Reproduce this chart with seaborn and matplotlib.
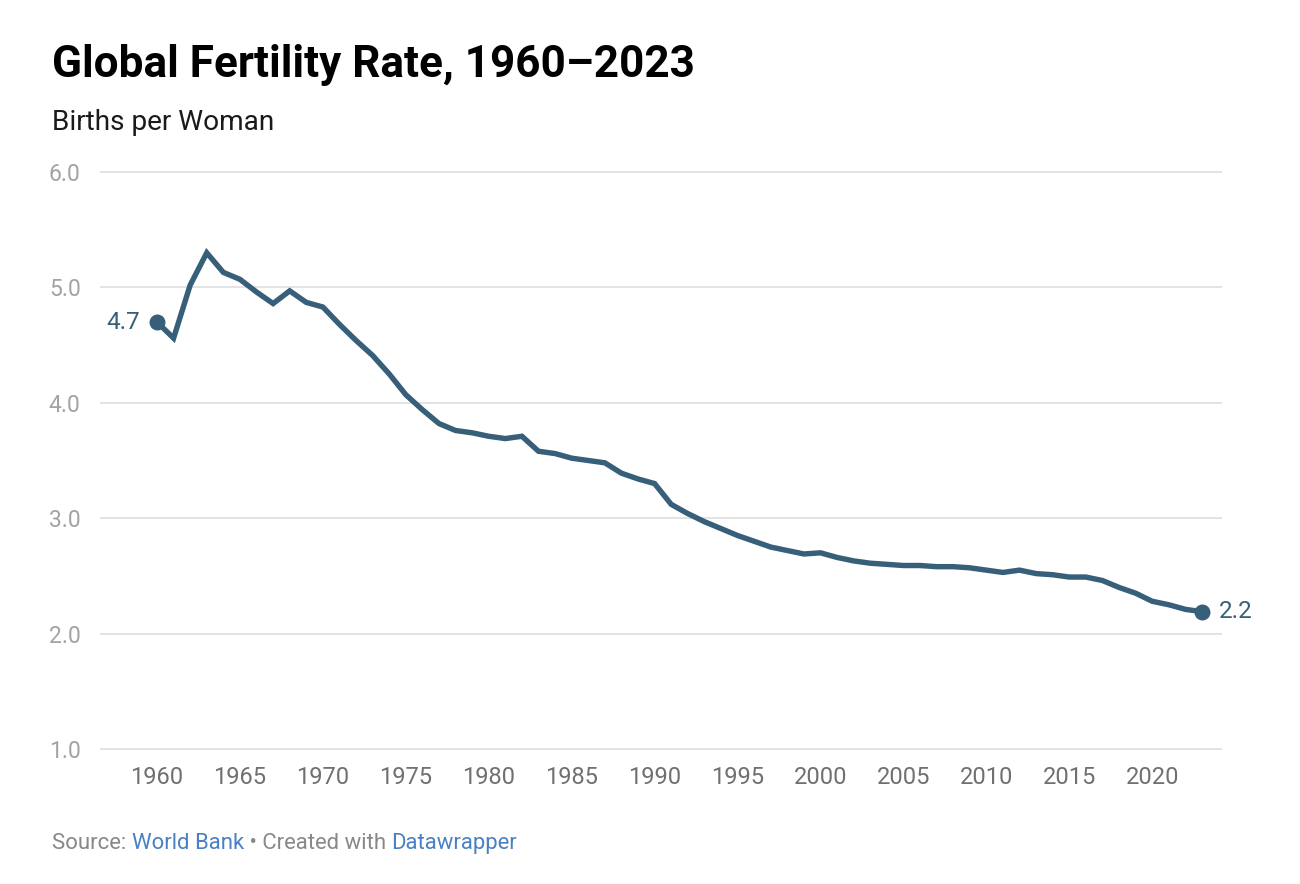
import matplotlib
matplotlib.use("Agg")
import matplotlib.pyplot as plt
import seaborn as sns
import pandas as pd

# Datos: tasa global de fecundidad (World Bank)
years = list(range(1960, 2024))
fertility = [
    4.70, 4.56, 5.02, 5.30, 5.13, 5.07, 4.96, 4.86, 4.97, 4.87,
    4.83, 4.68, 4.54, 4.41, 4.25, 4.07, 3.94, 3.82, 3.76, 3.74,
    3.71, 3.69, 3.71, 3.58, 3.56, 3.52, 3.50, 3.48, 3.39, 3.34,
    3.30, 3.12, 3.04, 2.97, 2.91, 2.85, 2.80, 2.75, 2.72, 2.69,
    2.70, 2.66, 2.63, 2.61, 2.60, 2.59, 2.59, 2.58, 2.58, 2.57,
    2.55, 2.53, 2.55, 2.52, 2.51, 2.49, 2.49, 2.46, 2.40, 2.35,
    2.28, 2.25, 2.21, 2.19,
]
x_ticks = list(range(1960, 2021, 5))
y_ticks = [1.0, 2.0, 3.0, 4.0, 5.0, 6.0]

df = pd.DataFrame({"year": years, "rate": fertility})

sns.set_theme(style="white")
plt.rcParams["font.family"] = ["Roboto", "DejaVu Sans"]

line_color = "#375f79"

fig = plt.figure(figsize=(13, 8.84), dpi=100)
W, H = 1300, 884
# ejes: 1.0 en y=749px, 6.0 en y=172px ; 1960 en x=157px, 2023 en x=1202px
ylo, yhi = 0.95, 6.05
ppu = (749 - 172) / 5.0
top_px = 172 - (yhi - 6.0) * ppu
bot_px = 749 + (1.0 - ylo) * ppu
left_px, right_px = 100, 1222
ax = fig.add_axes([left_px / W, 1 - bot_px / H, (right_px - left_px) / W, (bot_px - top_px) / H])

ppy = (1202 - 157) / 63.0
xlo = 1960 - (157 - left_px) / ppy
xhi = 2023 + (right_px - 1202) / ppy

for yv in y_ticks:
    ax.axhline(yv, color="#e3e3e3", lw=1.4, zorder=0)

sns.lineplot(data=df, x="year", y="rate", ax=ax, color=line_color, lw=3.9,
             solid_joinstyle="miter", zorder=3)
ends = df.iloc[[0, -1]]
ax.scatter(ends["year"], ends["rate"], s=110, color=line_color, zorder=4)
ax.text(ends["year"].iloc[0] - 1.0, ends["rate"].iloc[0], f"{fertility[0]:.1f}",
        ha="right", va="center", fontsize=17.5, color=line_color)
ax.text(ends["year"].iloc[1] + 1.0, ends["rate"].iloc[1], f"{fertility[-1]:.1f}",
        ha="left", va="center", fontsize=17.5, color=line_color)

ax.set_xlim(xlo, xhi)
ax.set_ylim(ylo, yhi)
ax.set_xticks(x_ticks)
ax.set_xticklabels([str(t) for t in x_ticks], fontsize=17, color="#707070")
ax.set_yticks(y_ticks)
ax.set_yticklabels([f"{t:.1f}" for t in y_ticks], fontsize=16.5, color="#a3a3a3")
ax.tick_params(axis="x", length=0, pad=8)
ax.tick_params(axis="y", length=0, pad=14)
ax.set_xlabel("")
ax.set_ylabel("")
for s in ax.spines.values():
    s.set_visible(False)

fig.text(52 / W, 1 - 77 / H, "Global Fertility Rate, 1960\u20132023",
         fontsize=31.8, fontweight="bold", color="#000000", va="baseline")
fig.text(52 / W, 1 - 130 / H, "Births per Woman",
         fontsize=20.2, color="#1a1a1a", va="baseline")

# Fuente con enlaces de colores
renderer = fig.canvas.get_renderer()
xpos = 52 / W
ybase = 1 - 849 / H
parts = [("Source: ", "#888888"), ("World Bank", "#4a80c4"),
         (" \u2022 Created with ", "#888888"), ("Datawrapper", "#4a80c4")]
for txt, col in parts:
    t = fig.text(xpos, ybase, txt, fontsize=15.9, color=col, va="baseline")
    bb = t.get_window_extent(renderer=renderer)
    xpos += bb.width / fig.bbox.width

fig.savefig("out.png", dpi=100)
